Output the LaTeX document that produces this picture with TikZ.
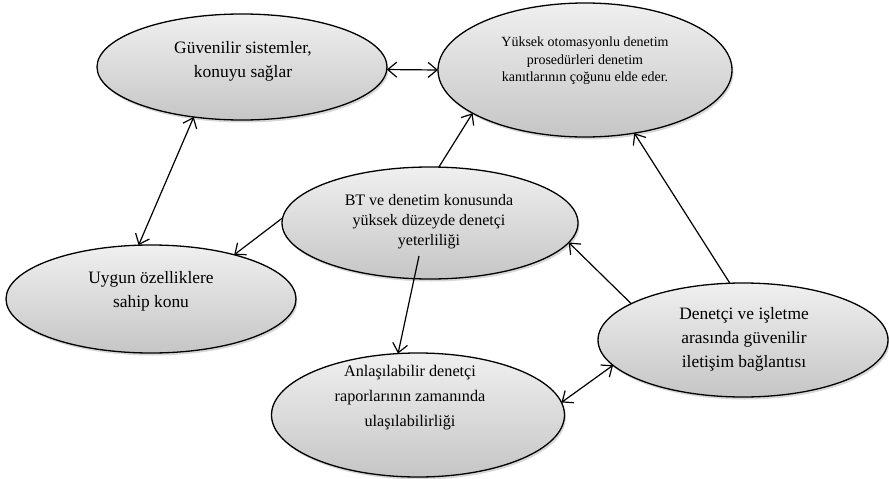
\documentclass[tikz,border=0pt]{standalone}
\usepackage{fontspec}
\setmainfont{Liberation Serif}
\usetikzlibrary{shapes.geometric,shadows,arrows.meta}
\begin{document}
\begin{tikzpicture}[x=1pt,y=-1pt,
  bubble/.style={ellipse,draw=black,line width=1.3pt,inner sep=0pt,outer sep=0pt,
    top color=gray!12,bottom color=gray!45,
    drop shadow={shadow xshift=1.5pt,shadow yshift=-2.5pt,opacity=0.3,fill=gray}},
  txt/.style={align=center,inner sep=0pt,font=\fontsize{17.4}{24}\selectfont},
  arr/.style={-{Straight Barb[length=9pt,width=15pt]},line width=1.2pt},
  dbl/.style={{Straight Barb[length=9pt,width=15pt]}-{Straight Barb[length=9pt,width=15pt]},line width=1.2pt}]
\useasboundingbox (0,0) rectangle (889,479);
\fill[white] (0,0) rectangle (889,479);
% ellipses
\node[bubble,minimum width=290pt,minimum height=106pt] (e1) at (242,67) {};
\node[bubble,minimum width=294pt,minimum height=134pt] (e2) at (585,70) {};
\node[bubble,minimum width=290pt,minimum height=108pt] (e4) at (151,299) {};
\node[bubble,minimum width=290pt,minimum height=114pt] (e5) at (743,340) {};
\node[bubble,minimum width=293pt,minimum height=124pt] (e6) at (418,415) {};
\node[bubble,minimum width=296pt,minimum height=112pt] (e3) at (430,223) {};
% texts
\node[txt] (t1) at (243,61) {Güvenilir sistemler,\\konuyu sağlar};
\node[txt,font=\fontsize{14}{17.5}\selectfont] (t2) at (585,61) {Yüksek otomasyonlu denetim\\prosedürleri denetim\\kanıtlarının çoğunu elde eder.};
\node[txt,font=\fontsize{16}{20}\selectfont] (t3) at (429,222) {BT ve denetim konusunda\\yüksek düzeyde denetçi\\yeterliliği};
\node[txt] (t4) at (151,291) {Uygun özelliklere\\sahip konu};
\node[txt] (t5) at (744,339) {Denetçi ve işletme\\arasında güvenilir\\iletişim bağlantısı};
\node[txt,font=\fontsize{16.2}{25}\selectfont] (t6) at (410,398) {Anlaşılabilir denetçi\\raporlarının zamanında\\ulaşılabilirliği};
% connectors
\coordinate (c36) at (419,256);
\draw[dbl] (e1.-1) -- (e2.180);
\draw[dbl] (e1.226) -- (e4.103);
\draw[arr] (e3.81) -- (e2.201);
\draw[arr] (e3.178) -- (e4.28);
\draw[arr] (c36) -- (e6.108);
\draw[arr] (e5.162) -- (e3.-8);
\draw[arr] (e5.103) -- (e2.308);
\draw[dbl] (e6.5) -- (e5.191);
\end{tikzpicture}
\end{document}
